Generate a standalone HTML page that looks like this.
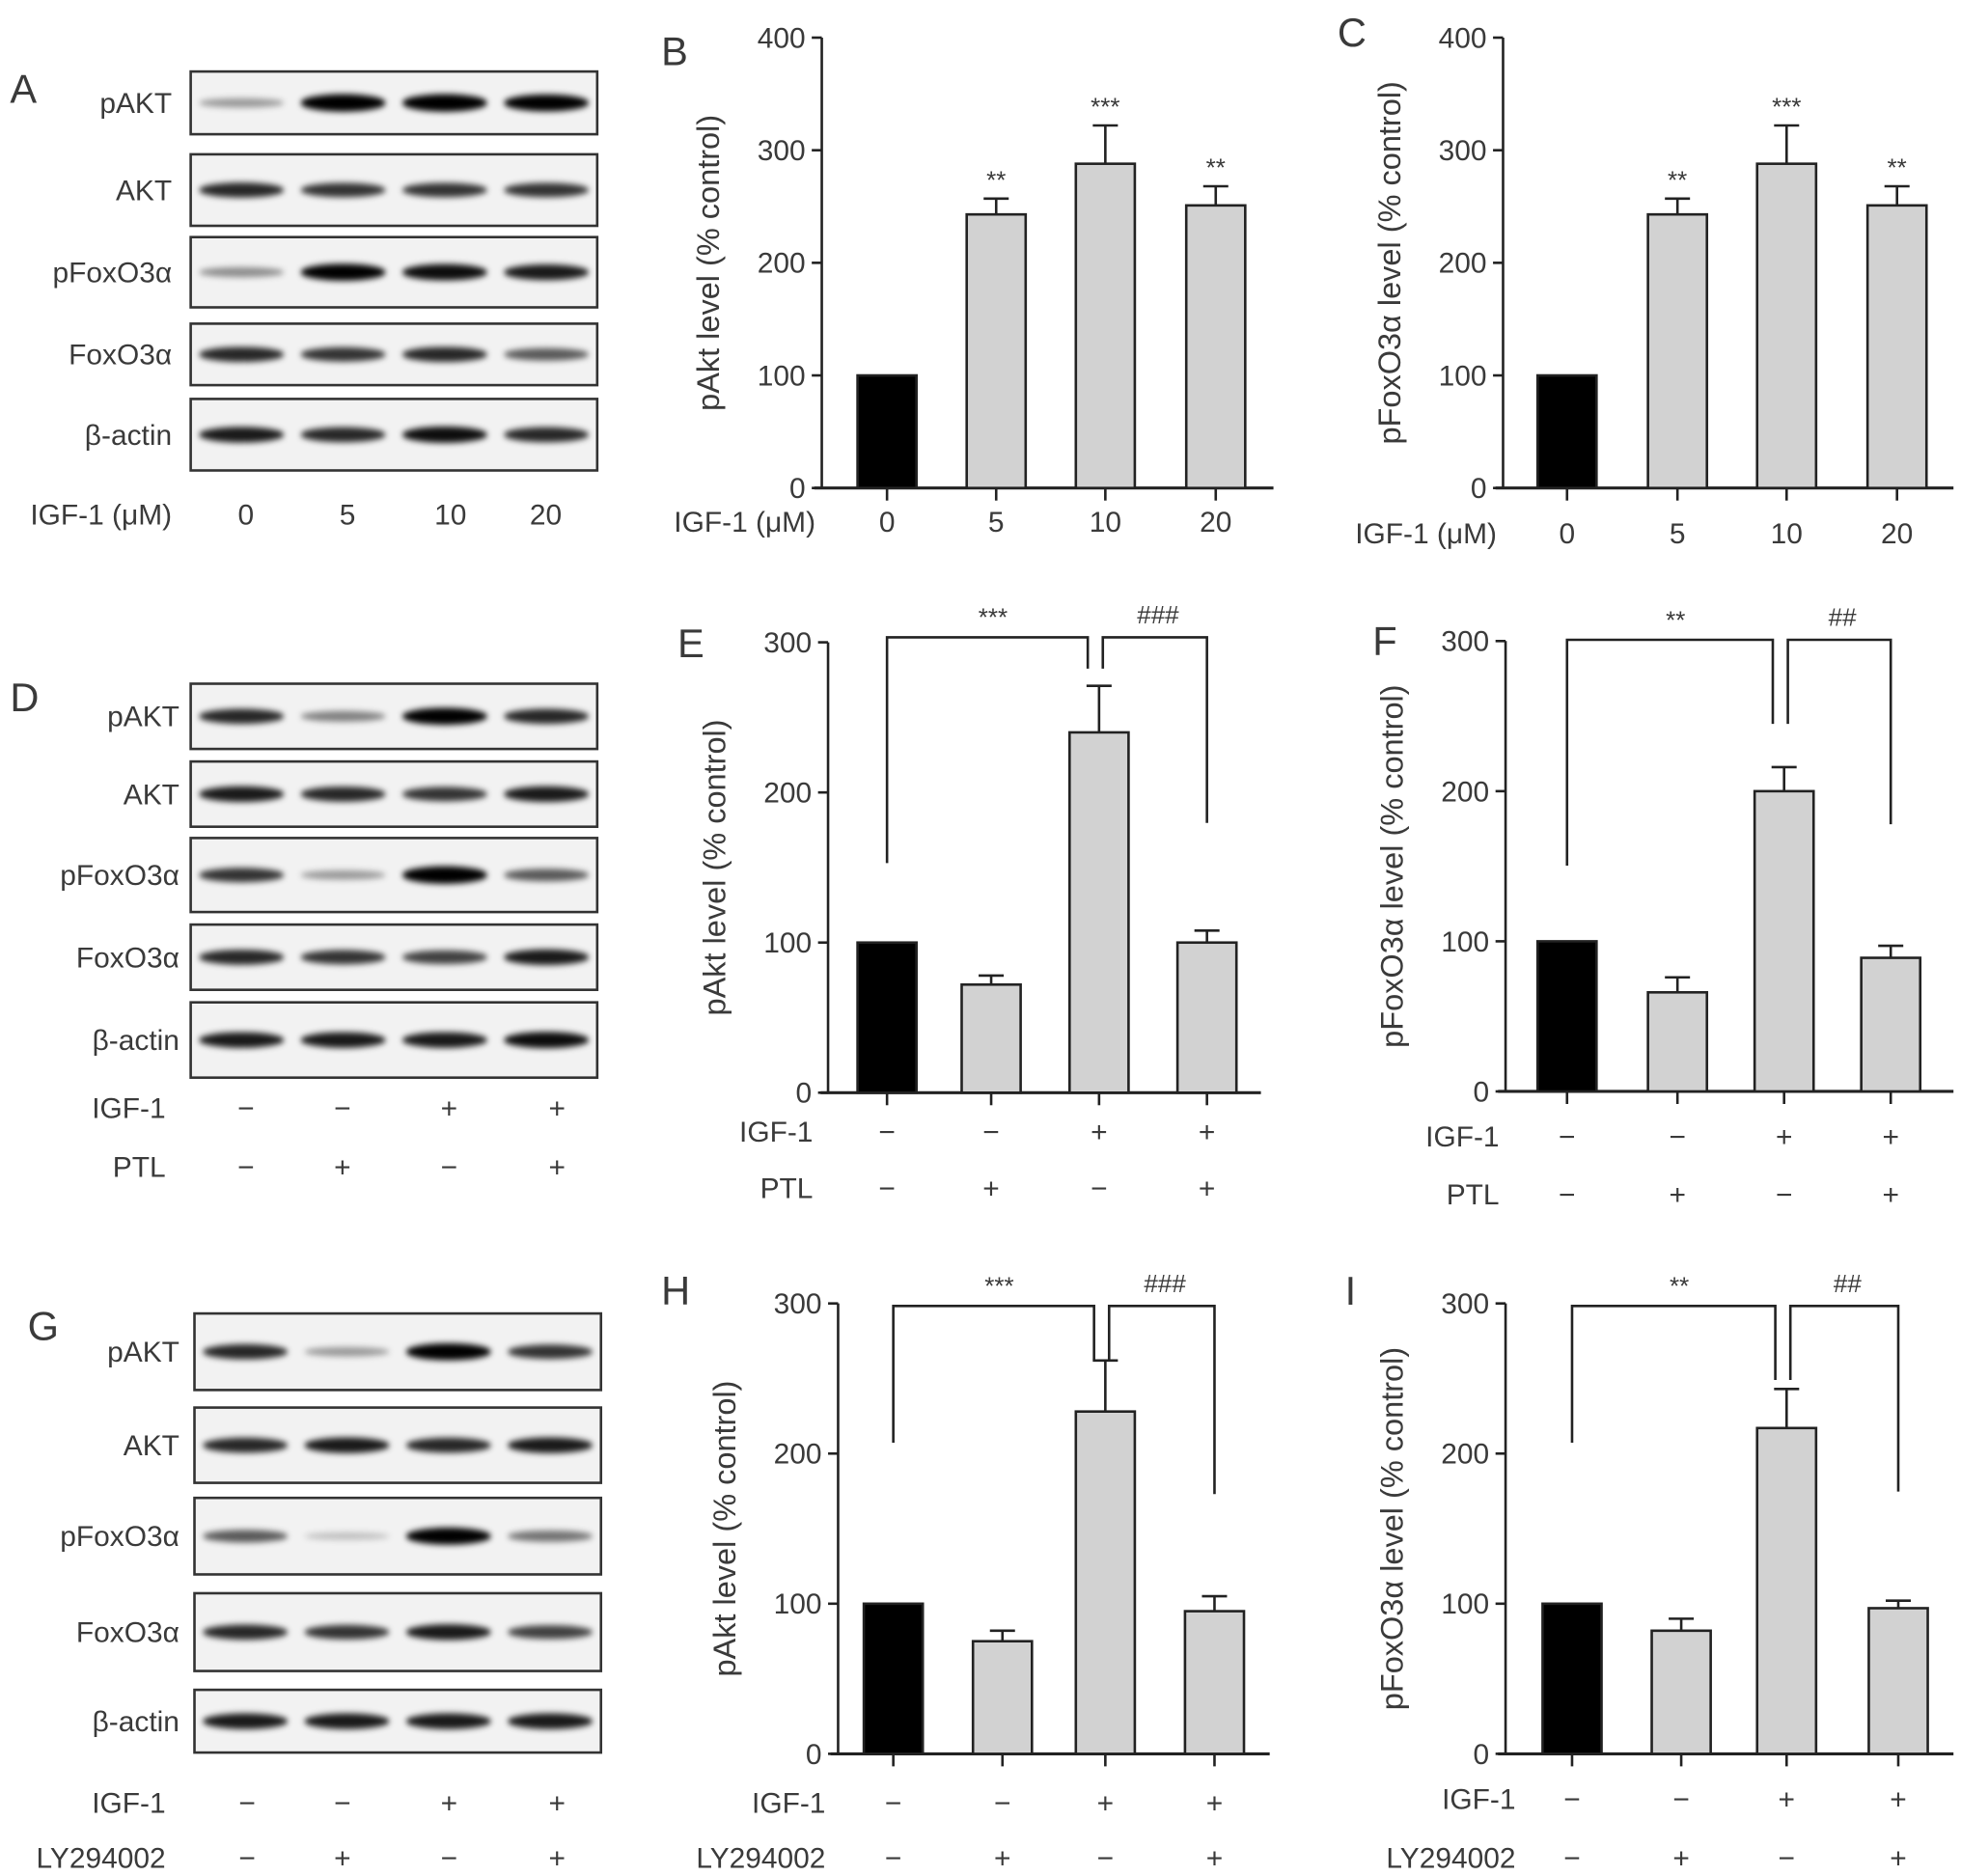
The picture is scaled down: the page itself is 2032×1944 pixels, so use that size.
<!DOCTYPE html>
<html><head><meta charset="utf-8">
<style>
html,body{margin:0;padding:0;background:#fff;}
svg{display:block;}
text{font-family:"Liberation Sans",sans-serif;fill:#3a3a3a;}
</style></head>
<body>
<svg id="fig" width="2032" height="1944" viewBox="0 0 1563 1495.4" preserveAspectRatio="none" xmlns="http://www.w3.org/2000/svg">
<defs>
<filter id="blur" x="-20%" y="-100%" width="140%" height="300%"><feGaussianBlur stdDeviation="2.2 2.4"/></filter>
</defs>
</svg>
<script>
// ---- data ----
const catsB = ["0","5","10","20"];
const valuesB = [100, 243, 288, 251];
const errorsB = [0, 14, 34, 17];
const starsB = ["", "**", "***", "**"];
const valuesC = [100, 243, 288, 251];
const errorsC = [0, 14, 34, 17];
const starsC = ["", "**", "***", "**"];
const valuesE = [100, 72, 240, 100];
const errorsE = [0, 6, 31, 8];
const valuesF = [100, 66, 200, 89];
const errorsF = [0, 10, 16, 8];
const valuesH = [100, 75, 228, 95];
const errorsH = [0, 7, 34, 10];
const valuesI = [100, 82, 217, 97];
const errorsI = [0, 8, 26, 5];
const igfRow = ["\u2212","\u2212","+","+"];
const inhRow = ["\u2212","+","\u2212","+"];
const ticks400 = [0,100,200,300,400];
const ticks300 = [0,100,200,300];

const svg = document.getElementById('fig');
const NS = "http://www.w3.org/2000/svg";
function mk(tag, attrs, parent){
  const e = document.createElementNS(NS, tag);
  for (const k in attrs) e.setAttribute(k, attrs[k]);
  (parent||svg).appendChild(e);
  return e;
}
function txt(s, x, y, size, anchor, parent){
  const t = mk('text', {x:x, y:y, 'font-size':size, 'text-anchor':anchor||'middle'}, parent);
  t.textContent = s;
  return t;
}

function chart(o){
  const g = mk('g', {});
  
  
  const yS = v => o.y0 - (v/o.max)*(o.y0-o.yTop);
  const lab = txt(o.letter, o.lx, o.ly, 32, 'start', g);
  
  
  mk('line',{x1:o.ax,y1:o.yTop,x2:o.ax,y2:o.y0,stroke:'#222','stroke-width':2},g);
  mk('line',{x1:o.ax-6,y1:o.y0,x2:o.xEnd,y2:o.y0,stroke:'#222','stroke-width':2.4},g);
  o.ticks.forEach(t=>{
    const y=yS(t);
    mk('line',{x1:o.ax-8,y1:y,x2:o.ax,y2:y,stroke:'#222','stroke-width':2},g);
    const tl = txt(String(t), o.ax-13, y+8, 23, 'end', g);
    
    
  });
  const yt = txt(o.ytitle, 0, 0, 25, 'middle', g);
  yt.setAttribute('transform', `translate(${o.ax-82},${(o.yTop+o.y0)/2}) rotate(-90)`);
  
  
  const w = 47;
  o.values.forEach((v,i)=>{
    const cx = o.xs[i];
    const y = yS(v);
    const err = o.errors[i];
    if (err>0){
      const ye = yS(v+err);
      mk('line',{x1:cx,y1:y,x2:cx,y2:ye,stroke:'#222','stroke-width':2},g);
      mk('line',{x1:cx-10,y1:ye,x2:cx+10,y2:ye,stroke:'#222','stroke-width':2},g);
    }
    const r = mk('rect',{x:cx-w/2,y:y,width:w,height:o.y0-y,fill:i===0?'#000':'#d2d2d2',stroke:'#222','stroke-width':2},g);
    
    
    mk('line',{x1:cx,y1:o.y0,x2:cx,y2:o.y0+10,stroke:'#222','stroke-width':2},g);
    if (o.stars && o.stars[i]){
      const s = txt(o.stars[i], cx, yS(v+err)-8, 20, 'middle', g);
      
      
    }
  });
  if (o.cats){
    o.cats.forEach((c,i)=>{
      const t = txt(c, o.xs[i], o.catY, 23, 'middle', g);
      
      
    });
    const xl = txt('IGF-1 (\u03bcM)', o.ax-5, o.catY, 23, 'end', g);
    
    
  }
  if (o.rows){
    o.rows.forEach((r,ri)=>{
      const rl = txt(r.label, o.rowLabelX, r.y, 23, 'end', g);
      
      
      r.vals.forEach((s,i)=>{
        const t = txt(s, o.xs[i], r.y, 23, 'middle', g);
        
        
      });
    });
  }
  if (o.brackets){
    const b=o.brackets;
    const p1 = mk('polyline',{points:`${o.xs[0]},${b.lBot} ${o.xs[0]},${b.top} ${o.xs[2]-9},${b.top} ${o.xs[2]-9},${b.mid}`,fill:'none',stroke:'#222','stroke-width':2},g);
    
    
    const p2 = mk('polyline',{points:`${o.xs[2]+3},${b.mid} ${o.xs[2]+3},${b.top} ${o.xs[3]},${b.top} ${o.xs[3]},${b.rBot}`,fill:'none',stroke:'#222','stroke-width':2},g);
    
    
    const s1 = txt(b.s1, (o.xs[0]+o.xs[2])/2, b.top-9, 20, 'middle', g);
    
    
    const s2 = txt(b.s2, (o.xs[2]+o.xs[3])/2+4, b.top-11, 20, 'middle', g);
    
    
  }
}

chart({name:'chart-b',letter:'B',lx:527,ly:52,ax:655,yTop:30,y0:389,xEnd:1015,max:400,ticks:ticks400,
  xs:[707,794,881,969],values:valuesB,errors:errorsB,stars:starsB,cats:catsB,catY:424,ytitle:'pAkt level (% control)'});
chart({name:'chart-c',letter:'C',lx:1066,ly:37,ax:1198,yTop:30,y0:389,xEnd:1557,max:400,ticks:ticks400,
  xs:[1249,1337,1424,1512],values:valuesC,errors:errorsC,stars:starsC,cats:catsB,catY:433,ytitle:'pFoxO3\u03b1 level (% control)'});
chart({name:'chart-e',letter:'E',lx:540,ly:524,ax:660,yTop:512,y0:871,xEnd:1005,max:300,ticks:ticks300,
  xs:[707,790,876,962],values:valuesE,errors:errorsE,ytitle:'pAkt level (% control)',
  rowLabelX:648,rows:[{label:'IGF-1',y:910,vals:igfRow},{label:'PTL',y:955,vals:inhRow}],
  brackets:{lBot:688,top:508,mid:533,rBot:656,s1:'***',s2:'###'}});
chart({name:'chart-f',letter:'F',lx:1094,ly:522,ax:1200,yTop:511,y0:870,xEnd:1557,max:300,ticks:ticks300,
  xs:[1249,1337,1422,1507],values:valuesF,errors:errorsF,ytitle:'pFoxO3\u03b1 level (% control)',
  rowLabelX:1195,rows:[{label:'IGF-1',y:914,vals:igfRow},{label:'PTL',y:960,vals:inhRow}],
  brackets:{lBot:690,top:510,mid:577,rBot:657,s1:'**',s2:'##'}});
chart({name:'chart-h',letter:'H',lx:527,ly:1040,ax:668,yTop:1039,y0:1398,xEnd:1012,max:300,ticks:ticks300,
  xs:[712,799,881,968],values:valuesH,errors:errorsH,ytitle:'pAkt level (% control)',
  rowLabelX:658,rows:[{label:'IGF-1',y:1445,vals:igfRow},{label:'LY294002',y:1489,vals:inhRow}],
  brackets:{lBot:1150,top:1041,mid:1084,rBot:1191,s1:'***',s2:'###'}});
chart({name:'chart-i',letter:'I',lx:1072,ly:1040,ax:1200,yTop:1039,y0:1398,xEnd:1557,max:300,ticks:ticks300,
  xs:[1253,1340,1424,1513],values:valuesI,errors:errorsI,ytitle:'pFoxO3\u03b1 level (% control)',
  rowLabelX:1208,rows:[{label:'IGF-1',y:1442,vals:igfRow},{label:'LY294002',y:1489,vals:inhRow}],
  brackets:{lBot:1150,top:1041,mid:1100,rBot:1189,s1:'**',s2:'##'}});

// ---- western blots ----
const blotLabels = ["pAKT","AKT","pFoxO3\u03b1","FoxO3\u03b1","\u03b2-actin"];
const intensA = [[0.35,1,1,0.95],[0.8,0.75,0.75,0.75],[0.4,0.95,0.9,0.85],[0.8,0.75,0.8,0.6],[0.85,0.8,0.9,0.8]];
const intensD = [[0.8,0.45,0.95,0.8],[0.85,0.8,0.75,0.85],[0.75,0.35,1,0.6],[0.8,0.75,0.7,0.85],[0.85,0.85,0.85,0.9]];
const intensG = [[0.8,0.35,0.95,0.75],[0.8,0.85,0.8,0.85],[0.6,0.2,0.95,0.5],[0.8,0.75,0.85,0.7],[0.85,0.85,0.85,0.85]];

function blots(o){
  const g = mk('g',{});
  
  
  const lab = txt(o.letter, o.lx, o.ly, 32, 'start', g);
  
  
  o.rows.forEach((r,ri)=>{
    const box = mk('rect',{x:o.x0,y:r[0],width:o.x1-o.x0,height:r[1]-r[0],fill:'#f2f2f2',stroke:'#333','stroke-width':2},g);
    
    
    const cy=(r[0]+r[1])/2;
    o.intens[ri].forEach((v,i)=>{
      const cx=o.x0+(o.x1-o.x0)*(i+0.5)/4;
      const h = 4+10*v;
      const e = mk('ellipse',{cx:cx,cy:cy,rx:34,ry:h/2,fill:'#000','fill-opacity':Math.min(1,v*1.05),filter:'url(#blur)'},g);
      
      
    });
    const l = txt(blotLabels[ri], o.labX, cy+8, 23, 'end', g);
    
    
  });
  o.bottom.forEach(b=>{
    const l = txt(b.label, b.lx, b.y, 23, b.anchor||'end', g);
    
    
    b.vals.forEach((s,i)=>{
      const t = txt(s, o.cols[i], b.y, 23, 'middle', g);
      
      
    });
  });
}
blots({name:'blot-a',letter:'A',lx:8,ly:82,x0:152,x1:476,labX:137,
  rows:[[57,107],[123,180],[189,245],[258,307],[318,375]],intens:intensA,cols:[196,277,359,435],
  bottom:[{label:'IGF-1 (\u03bcM)',lx:137,y:418,vals:catsB}]});
blots({name:'blot-d',letter:'D',lx:8,ly:567,x0:152,x1:476,labX:143,
  rows:[[545,597],[607,659],[668,727],[737,789],[799,859]],intens:intensD,cols:[196,273,358,444],
  bottom:[{label:'IGF-1',lx:132,y:891,vals:igfRow},{label:'PTL',lx:132,y:938,vals:inhRow}]});
blots({name:'blot-g',letter:'G',lx:22,ly:1068,x0:155,x1:479,labX:143,
  rows:[[1047,1108],[1122,1182],[1194,1255],[1270,1332],[1347,1397]],intens:intensG,cols:[197,273,358,444],
  bottom:[{label:'IGF-1',lx:132,y:1445,vals:igfRow},{label:'LY294002',lx:132,y:1489,vals:inhRow}]});
</script>
</body></html>
